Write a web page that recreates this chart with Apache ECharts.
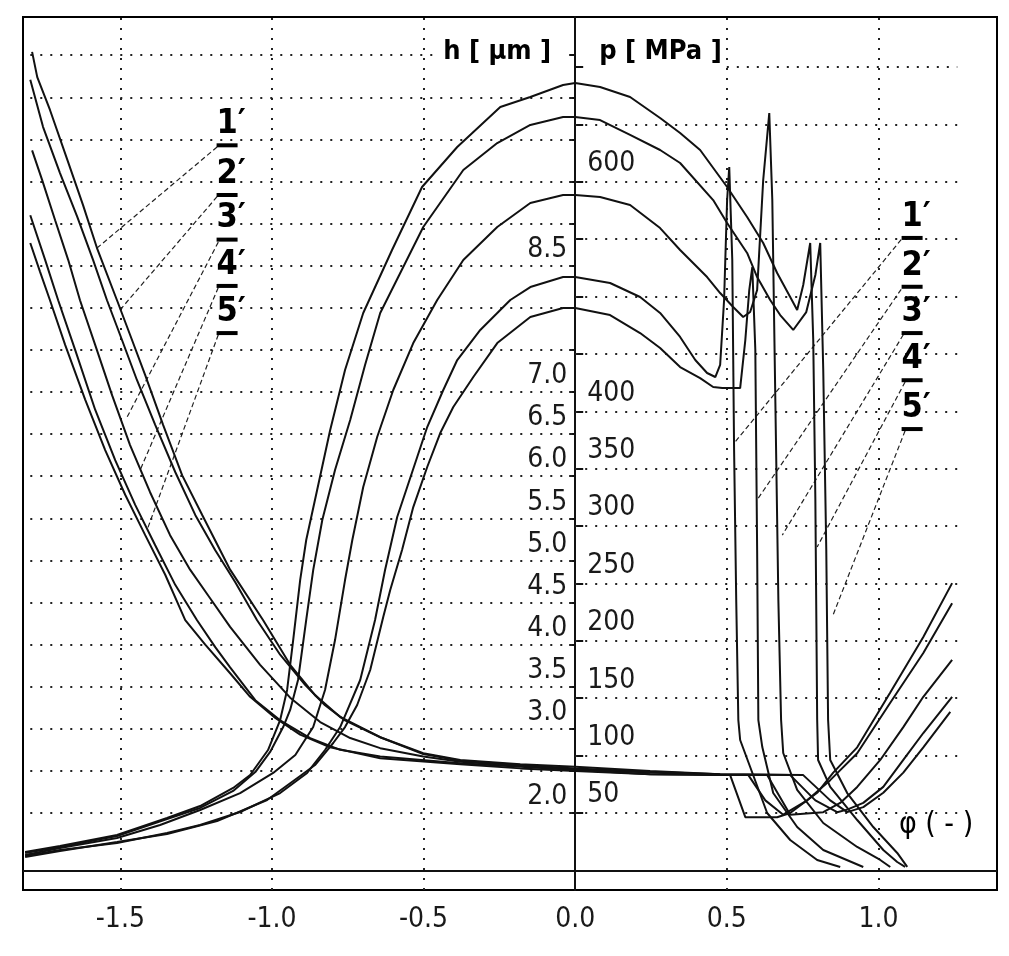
<!DOCTYPE html>
<html><head><meta charset="utf-8">
<script src="https://cdn.jsdelivr.net/npm/echarts@6/dist/echarts.min.js"></script>
<style>html,body{margin:0;padding:0;background:#fff}#c{width:1009px;height:956px}</style>
</head><body><div id="c"></div>
<script>
// ---------- data ----------
const xTickValues = [-1.5, -1.0, -0.5, 0.0, 0.5, 1.0];
const xTickLabels = ['-1.5', '-1.0', '-0.5', '0.0', '0.5', '1.0'];
const xGridValues = [-1.5, -1.0, -0.5, 0.5, 1.0];
const hTickValues = [2.0,2.5,3.0,3.5,4.0,4.5,5.0,5.5,6.0,6.5,7.0,7.5,8.0,8.5,9.0,9.5,10.0,10.5,11.0];
const hLabelValues = [2.0,3.0,3.5,4.0,4.5,5.0,5.5,6.0,6.5,7.0,8.5];
const pTickValues = [50,100,150,200,250,300,350,400,450,500,550,600,650,700];
const pLabelValues = [50,100,150,200,250,300,350,400,600];
const curveNames = ['1′','2′','3′','4′','5′'];

// pressure p [MPa] vs phi
const p1 = [[-1.814,16.0],[-1.699,21.3],[-1.511,30.8],[-1.346,45.7],[-1.237,56.1],[-1.128,71.8],[-1.072,83.1],[-1.013,104.9],[-0.973,131.0],[-0.950,157.2],[-0.930,200.7],[-0.907,253.0],[-0.887,287.9],[-0.851,331.4],[-0.808,383.7],[-0.759,436.0],[-0.699,485.7],[-0.604,540.6],[-0.505,595.5],[-0.389,630.3],[-0.247,665.2],[-0.148,673.9],[-0.040,684.3],[0,686.1],[0.082,682.6],[0.181,673.9],[0.280,655.6],[0.346,642.5],[0.412,627.7],[0.501,595.5],[0.567,569.3],[0.620,546.7],[0.666,520.5],[0.709,499.6],[0.732,488.3],[0.752,510.1],[0.775,546.7],[0.785,462.1],[0.792,322.7],[0.798,131.0],[0.801,96.2],[0.841,72.7],[0.930,43.9],[1.016,17.8],[1.062,7.3],[1.088,3.0]];
const p2 = [[-1.814,15.2],[-1.699,20.4],[-1.511,30.0],[-1.346,44.8],[-1.237,54.4],[-1.128,69.2],[-1.055,85.7],[-1.006,103.2],[-0.963,124.9],[-0.940,139.8],[-0.914,165.9],[-0.887,218.2],[-0.864,261.7],[-0.834,305.3],[-0.792,348.9],[-0.742,392.4],[-0.693,440.4],[-0.643,485.7],[-0.501,560.6],[-0.369,610.3],[-0.257,633.8],[-0.148,649.5],[-0.040,656.4],[0,656.4],[0.082,653.8],[0.181,640.8],[0.280,627.7],[0.346,616.4],[0.455,584.1],[0.501,564.1],[0.567,538.0],[0.600,517.0],[0.643,497.0],[0.676,483.9],[0.719,470.9],[0.762,486.5],[0.792,518.8],[0.808,546.7],[0.818,436.0],[0.828,279.2],[0.834,131.0],[0.841,96.2],[0.897,67.4],[0.983,37.8],[1.062,15.2],[1.095,3.0]];
const p3 = [[-1.814,13.4],[-1.699,19.5],[-1.511,28.2],[-1.369,39.6],[-1.237,52.6],[-1.105,67.4],[-0.996,84.9],[-0.923,100.5],[-0.864,124.9],[-0.825,157.2],[-0.792,200.7],[-0.759,253.0],[-0.735,287.9],[-0.699,334.1],[-0.653,377.6],[-0.600,418.6],[-0.534,459.5],[-0.455,497.0],[-0.369,531.8],[-0.257,560.6],[-0.148,581.5],[-0.040,588.5],[0,588.5],[0.082,586.7],[0.181,579.8],[0.280,559.7],[0.346,540.6],[0.435,517.0],[0.478,503.1],[0.521,490.9],[0.554,482.2],[0.577,486.6],[0.600,505.7],[0.620,601.6],[0.640,659.9],[0.650,584.1],[0.660,409.9],[0.670,235.6],[0.679,131.0],[0.686,102.3],[0.732,70.1],[0.818,41.3],[0.930,20.4],[1.006,9.1],[1.039,3.0]];
const p4 = [[-1.814,12.5],[-1.699,17.8],[-1.511,23.9],[-1.346,32.6],[-1.237,39.6],[-1.105,50.9],[-0.973,67.4],[-0.884,84.9],[-0.825,104.9],[-0.775,124.9],[-0.709,165.9],[-0.660,218.2],[-0.627,261.7],[-0.587,307.9],[-0.554,334.1],[-0.521,360.2],[-0.488,386.3],[-0.435,418.6],[-0.389,444.7],[-0.313,470.9],[-0.214,497.0],[-0.148,508.3],[-0.040,517.0],[0,517.0],[0.115,511.8],[0.214,499.6],[0.280,485.7],[0.346,464.8],[0.396,444.7],[0.435,433.4],[0.462,429.9],[0.478,440.4],[0.491,497.0],[0.501,584.1],[0.508,612.9],[0.518,531.8],[0.524,366.3],[0.531,235.6],[0.538,131.0],[0.544,113.6],[0.577,90.1],[0.633,50.0],[0.709,26.5],[0.798,9.1],[0.874,3.0]];
const p5 = [[-1.814,11.7],[-1.699,16.9],[-1.511,24.7],[-1.346,31.7],[-1.181,43.0],[-1.016,61.3],[-0.907,82.3],[-0.858,91.8],[-0.798,111.0],[-0.759,124.9],[-0.719,144.1],[-0.676,174.6],[-0.633,220.8],[-0.610,244.3],[-0.571,279.2],[-0.534,316.6],[-0.488,351.5],[-0.445,381.1],[-0.402,403.8],[-0.336,429.9],[-0.257,459.5],[-0.148,482.2],[-0.040,490.0],[0,490.0],[0.115,483.9],[0.214,468.2],[0.280,455.2],[0.346,438.6],[0.412,429.0],[0.455,421.2],[0.485,420.3],[0.544,420.3],[0.561,462.1],[0.574,505.7],[0.584,525.7],[0.594,453.4],[0.600,279.2],[0.604,131.0],[0.617,107.5],[0.653,67.4],[0.732,37.8],[0.818,17.8],[0.950,3.0]];

// film thickness h [um] vs phi
const h1 = [[-1.791,11.04],[-1.774,10.74],[-1.732,10.35],[-1.675,9.76],[-1.623,9.22],[-1.577,8.71],[-1.511,8.09],[-1.468,7.68],[-1.418,7.20],[-1.359,6.61],[-1.296,6.01],[-1.230,5.54],[-1.138,4.89],[-1.029,4.29],[-0.940,3.76],[-0.858,3.40],[-0.775,3.14],[-0.643,2.90],[-0.501,2.71],[-0.379,2.63],[-0.181,2.58],[0,2.55],[0.247,2.50],[0.478,2.46],[0.752,2.45],[0.841,2.15],[0.897,2.01],[0.950,2.07],[1.016,2.24],[1.082,2.48],[1.148,2.78],[1.237,3.20]];
const h2 = [[-1.797,10.71],[-1.755,10.15],[-1.699,9.60],[-1.642,9.08],[-1.590,8.57],[-1.544,8.09],[-1.501,7.68],[-1.445,7.14],[-1.385,6.61],[-1.319,6.05],[-1.253,5.54],[-1.187,5.12],[-1.121,4.74],[-1.049,4.29],[-0.973,3.88],[-0.890,3.52],[-0.825,3.28],[-0.759,3.10],[-0.643,2.90],[-0.501,2.70],[-0.379,2.62],[-0.181,2.57],[0,2.53],[0.247,2.49],[0.478,2.46],[0.709,2.45],[0.792,2.15],[0.864,2.01],[0.897,2.04],[0.950,2.12],[1.016,2.31],[1.082,2.63],[1.148,2.95],[1.243,3.38]];
const h3 = [[-1.791,9.87],[-1.758,9.52],[-1.715,9.04],[-1.672,8.57],[-1.633,8.09],[-1.583,7.56],[-1.527,6.96],[-1.468,6.37],[-1.402,5.81],[-1.336,5.30],[-1.270,4.89],[-1.204,4.55],[-1.138,4.21],[-1.039,3.76],[-0.940,3.37],[-0.841,3.08],[-0.742,2.89],[-0.643,2.77],[-0.501,2.67],[-0.379,2.61],[-0.181,2.56],[0,2.52],[0.247,2.48],[0.478,2.45],[0.633,2.45],[0.709,1.98],[0.818,2.01],[0.874,2.12],[0.930,2.31],[1.006,2.63],[1.082,3.02],[1.148,3.38],[1.243,3.82]];
const h4 = [[-1.797,9.10],[-1.748,8.57],[-1.705,8.09],[-1.649,7.50],[-1.583,6.79],[-1.517,6.19],[-1.451,5.66],[-1.385,5.18],[-1.319,4.71],[-1.247,4.29],[-1.187,3.97],[-1.138,3.73],[-1.055,3.34],[-0.973,3.10],[-0.874,2.89],[-0.775,2.75],[-0.643,2.67],[-0.379,2.59],[-0.181,2.55],[0,2.51],[0.247,2.46],[0.478,2.45],[0.571,2.45],[0.627,2.15],[0.686,1.98],[0.765,2.15],[0.841,2.39],[0.930,2.71],[1.039,3.31],[1.148,3.90],[1.243,4.49]];
const h5 = [[-1.797,8.77],[-1.765,8.43],[-1.732,8.09],[-1.682,7.56],[-1.616,6.91],[-1.550,6.31],[-1.484,5.78],[-1.418,5.30],[-1.352,4.83],[-1.286,4.29],[-1.220,4.00],[-1.138,3.66],[-1.072,3.38],[-0.989,3.13],[-0.907,2.93],[-0.808,2.78],[-0.643,2.65],[-0.379,2.58],[-0.181,2.53],[0,2.50],[0.247,2.46],[0.511,2.45],[0.561,1.95],[0.666,1.95],[0.709,2.00],[0.798,2.24],[0.851,2.48],[0.930,2.78],[1.039,3.43],[1.148,4.09],[1.243,4.73]];

// curve labels (phi, h) and leader lines (from label to curve)
const leftLabelPos  = [[-1.148,9.93],[-1.148,9.34],[-1.148,8.81],[-1.148,8.26],[-1.148,7.70]];
const rightLabelPos = [[1.111,8.83],[1.111,8.25],[1.111,7.70],[1.111,7.14],[1.111,6.56]];
const leftLeaderFrom  = [[-1.181,9.91],[-1.181,9.32],[-1.177,8.78],[-1.177,8.24],[-1.177,7.68]];
const leftLeaderTo    = [[-1.577,8.71],[-1.507,7.95],[-1.478,6.70],[-1.435,6.07],[-1.412,5.36]];
const rightLeaderFrom = [[1.075,8.81],[1.075,8.22],[1.082,7.68],[1.088,7.12],[1.088,6.54]];
const rightLeaderTo   = [[0.528,6.41],[0.600,5.72],[0.683,5.30],[0.798,5.16],[0.848,4.33]];
const phiLabelPos = [1.19, 1.86];

// ---------- chart ----------
const X_MIN = -1.821, X_MAX = 1.391;
const H_MIN = 1.0855, H_MAX = 11.454;
const P_MIN = -17.08, P_MAX = 743.6;
const GRID = {left:23, right:12, top:17, bottom:66};
const CW = 1009;
const ZERO_X = GRID.left + (0 - X_MIN) / (X_MAX - X_MIN) * (CW - GRID.left - GRID.right);
const FONT = "'Liberation Sans Narrow','DejaVu Sans Condensed','Liberation Sans',sans-serif";
const BLACK = '#111';
const DOT = {color:'#222', width:2, type:[2,8]};

function curve(data, yIdx) {
  return {type:'line', data, yAxisIndex:yIdx, showSymbol:false, symbol:'none',
    lineStyle:{color:BLACK, width:2}, z:5, silent:true};
}
function leader(a, b) {
  return {type:'line', data:[a, b], yAxisIndex:0, showSymbol:false, symbol:'none',
    lineStyle:{color:'#222', width:1.2, type:[5,3]}, z:4, silent:true};
}
const hGridLines = hTickValues.map(v => [{coord:[-1.797, v]}, {coord:[v === 11 ? -0.45 : 0, v]}]);
const pGridLines = pTickValues.map(v => [{coord:[v === 700 ? 0.5 : 0, v]}, {coord:[1.26, v]}]);
const vGridLines = xGridValues.map(v => ({xAxis: v}));
const fmtX = v => { const i = xTickValues.findIndex(t => Math.abs(t - v) < 1e-6); return i >= 0 ? xTickLabels[i] : ''; };

const series = [
  {type:'line', data:[], yAxisIndex:0, z:1, silent:true,
    markLine:{silent:true, symbol:['none','none'], animation:false, label:{show:false},
      lineStyle:DOT, data: vGridLines.concat(hGridLines)}},
  {type:'line', data:[], yAxisIndex:1, z:1, silent:true,
    markLine:{silent:true, symbol:['none','none'], animation:false, label:{show:false},
      lineStyle:DOT, data: pGridLines.concat([{yAxis:0, lineStyle:{color:BLACK, width:2, type:'solid'}}])}},
  curve(p1,1), curve(p2,1), curve(p3,1), curve(p4,1), curve(p5,1),
  curve(h1,0), curve(h2,0), curve(h3,0), curve(h4,0), curve(h5,0)
];
for (let i = 0; i < 5; i++) {
  series.push(leader(leftLeaderFrom[i], leftLeaderTo[i]));
  series.push(leader(rightLeaderFrom[i], rightLeaderTo[i]));
}
const labelStyle = {show:true, position:'top', distance:2, formatter:'{b}', fontFamily:FONT,
  fontWeight:'bold', fontSize:34, color:'#000', offset:[4,0]};
series.push({type:'scatter', yAxisIndex:0, symbol:'rect', symbolSize:[21,4], itemStyle:{color:'#000', opacity:1}, z:6, silent:true,
  data: leftLabelPos.map((p,i)=>({value:p, name:curveNames[i]})).concat(rightLabelPos.map((p,i)=>({value:p, name:curveNames[i]}))),
  label: labelStyle});
series.push({type:'scatter', yAxisIndex:0, symbolSize:1, itemStyle:{opacity:0}, z:6, silent:true,
  data:[{value:phiLabelPos, name:'φ ( - )'}],
  label:{show:true, position:'inside', formatter:'{b}', fontFamily:FONT, fontSize:30, color:'#000', opacity:1}});

const axisLabelBase = {fontFamily:FONT, fontSize:28, color:'#1a1a1a'};
const option = {
  animation:false,
  backgroundColor:'#fff',
  grid:Object.assign({show:true, borderColor:'#000', borderWidth:2, backgroundColor:'#fff', containLabel:false, outerBoundsMode:'none'}, GRID),
  xAxis:{type:'value', min:X_MIN, max:X_MAX,
    axisLine:{show:false, onZero:false}, axisTick:{show:false}, splitLine:{show:false},
    axisLabel:Object.assign({customValues:xTickValues, formatter:fmtX, margin:16}, axisLabelBase)},
  yAxis:[
    {type:'value', min:H_MIN, max:H_MAX, position:'left', offset:-(ZERO_X - GRID.left),
      axisLine:{show:true, onZero:false, lineStyle:{color:BLACK, width:2}},
      axisTick:{show:true, length:6, customValues:hTickValues, lineStyle:{color:BLACK, width:2}},
      axisLabel:Object.assign({customValues:hLabelValues, formatter:v=>v.toFixed(1), margin:8, verticalAlign:'bottom', padding:[0,0,2,0]}, axisLabelBase),
      splitLine:{show:false},
      name:'h [ μm ]', nameLocation:'end', nameGap:-35,
      nameTextStyle:{fontFamily:FONT, fontWeight:'bold', fontSize:27, color:'#000', align:'right', verticalAlign:'middle', padding:[0,24,0,0]}},
    {type:'value', min:P_MIN, max:P_MAX, position:'right', offset:-(CW - GRID.right - ZERO_X),
      axisLine:{show:false, onZero:false},
      axisTick:{show:true, length:8, customValues:pTickValues, lineStyle:{color:BLACK, width:2}},
      axisLabel:Object.assign({customValues:pLabelValues, formatter:v=>String(v), margin:12, verticalAlign:'bottom', padding:[0,0,4,0]}, axisLabelBase),
      splitLine:{show:false},
      name:'p [ MPa ]', nameLocation:'end', nameGap:-35,
      nameTextStyle:{fontFamily:FONT, fontWeight:'bold', fontSize:27, color:'#000', align:'left', verticalAlign:'middle', padding:[0,0,0,24]}}
  ],
  series
};
const chart = echarts.init(document.getElementById('c'), null, {renderer:'canvas'});
chart.setOption(option);
</script></body></html>
